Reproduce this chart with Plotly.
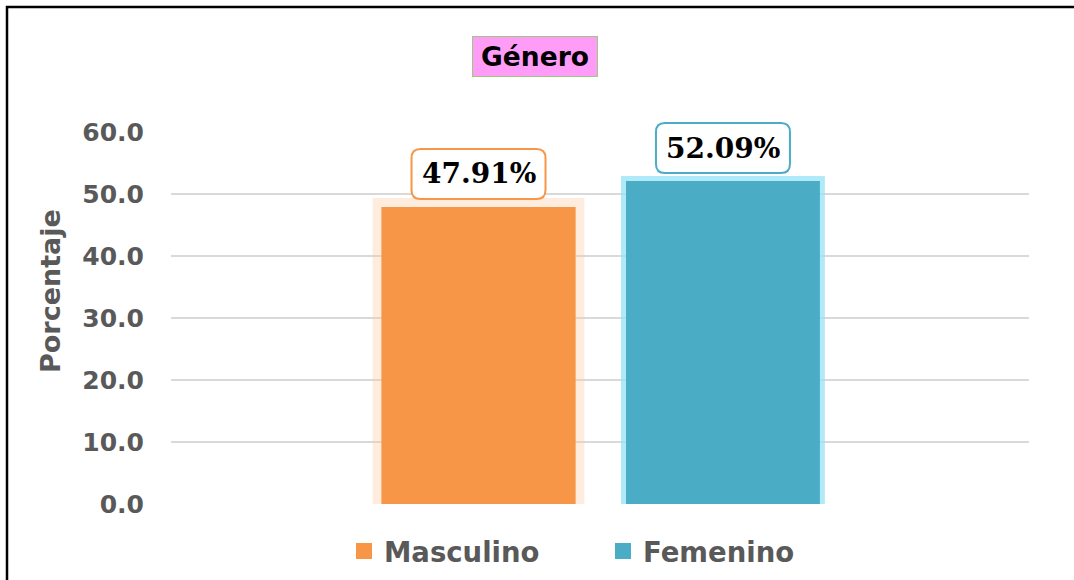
import plotly.graph_objects as go

categories = ["Masculino", "Femenino"]
values = [47.91, 52.09]
labels = ["47.91%", "52.09%"]
y_ticks = [0, 10, 20, 30, 40, 50, 60]
y_tick_text = ["0.0", "10.0", "20.0", "30.0", "40.0", "50.0", "60.0"]
Y_MAX = 60

core_colors = ["#F79646", "#4BACC6"]
glow_colors = ["rgba(252,200,160,0.35)", "rgba(150,225,245,0.75)"]
glow_widths = [18, 10]

W, H = 1074, 580
L, R, T, B = 171, 45, 132, 76
pw, ph = W - L - R, H - T - B

def px_x(p):
    return (p - L) / pw

def px_y(p):
    return (H - B - p) / ph

fig = go.Figure()
BAR_W = 0.793
for i, (c, v) in enumerate(zip(categories, values)):
    fig.add_trace(go.Bar(
        x=[c], y=[v], width=BAR_W, showlegend=False, hoverinfo="skip",
        marker=dict(color=core_colors[i], line=dict(color=glow_colors[i], width=glow_widths[i])),
    ))
for i, (c, v) in enumerate(zip(categories, values)):
    fig.add_trace(go.Bar(
        x=[c], y=[v], width=BAR_W, name=c, showlegend=False,
        marker=dict(color=core_colors[i], line=dict(width=0)),
    ))
# legend entries (square swatches)
for i, c in enumerate(categories):
    fig.add_trace(go.Scatter(
        x=[None], y=[None], mode="markers", name=c, hoverinfo="skip",
        marker=dict(symbol="square", size=16, color=core_colors[i]),
    ))

# rounded label boxes
def rrect(x0, x1, y0, y1, r):
    return (f"M{x0+r},{y0} L{x1-r},{y0} Q{x1},{y0} {x1},{y0+r} L{x1},{y1-r} Q{x1},{y1} {x1-r},{y1} "
            f"L{x0+r},{y1} Q{x0},{y1} {x0},{y1-r} L{x0},{y0+r} Q{x0},{y0} {x0+r},{y0} Z")

for i, (c, v, t) in enumerate(zip(categories, values, labels)):
    fig.add_shape(type="path", xref="x", yref="paper", xsizemode="pixel", ysizemode="pixel",
                  xanchor=c, yanchor=v / Y_MAX, path=rrect(-67, 67, 8, 58, 9),
                  fillcolor="white", line=dict(color=core_colors[i], width=2), layer="above")
    fig.add_annotation(x=c, y=v, text=f"<b>{t}</b>", showarrow=False, yshift=33, yanchor="middle",
                       font=dict(family="DejaVu Serif", size=28, color="black"))

# title box
fig.add_annotation(xref="paper", yref="paper", x=px_x(535), y=px_y(57), text="<b>Género</b>",
                   showarrow=False, xanchor="center", yanchor="middle", width=122, height=37,
                   bgcolor="#FF9CF8", bordercolor="#9CCB7E", borderwidth=1,
                   font=dict(family="DejaVu Sans", size=26.5, color="black"))

# y-axis title
fig.add_annotation(xref="paper", yref="paper", x=px_x(50), y=px_y(291), text="<b>Porcentaje</b>",
                   textangle=-90, showarrow=False, xanchor="center", yanchor="middle",
                   font=dict(family="DejaVu Sans", size=27, color="#595959"))

# outer frame
fig.add_shape(type="rect", xref="paper", yref="paper", x0=px_x(7), x1=px_x(1100), y0=px_y(7), y1=px_y(600),
              line=dict(color="black", width=2.5), fillcolor="rgba(0,0,0,0)", layer="above")

fig.update_layout(
    width=W, height=H, margin=dict(l=L, r=R, t=T, b=B, autoexpand=False),
    paper_bgcolor="white", plot_bgcolor="white",
    barmode="overlay",
    showlegend=True,
    legend=dict(orientation="h", xref="container", yref="container",
                x=603 / W, xanchor="center", y=(H - 551) / H, yanchor="middle",
                entrywidth=214, entrywidthmode="pixels", itemsizing="trace",
                font=dict(family="DejaVu Sans", size=27.5, color="#595959", weight="bold"),
                bgcolor="rgba(0,0,0,0)"),
    xaxis=dict(categoryorder="array", categoryarray=categories, range=[-1.258, 2.252],
               showticklabels=False, showgrid=False, zeroline=False, showline=False),
    yaxis=dict(range=[0, Y_MAX], tickvals=y_ticks, ticktext=y_tick_text,
               showgrid=True, gridcolor="#D9D9D9", gridwidth=1.5, zeroline=False, showline=False,
               ticklabelstandoff=26,
               tickfont=dict(family="DejaVu Sans", size=25, color="#595959", weight="bold")),
    font=dict(family="DejaVu Sans"),
)

fig.write_html("out.html", config={"displayModeBar": False},
               post_script="document.body.style.margin='0';")
